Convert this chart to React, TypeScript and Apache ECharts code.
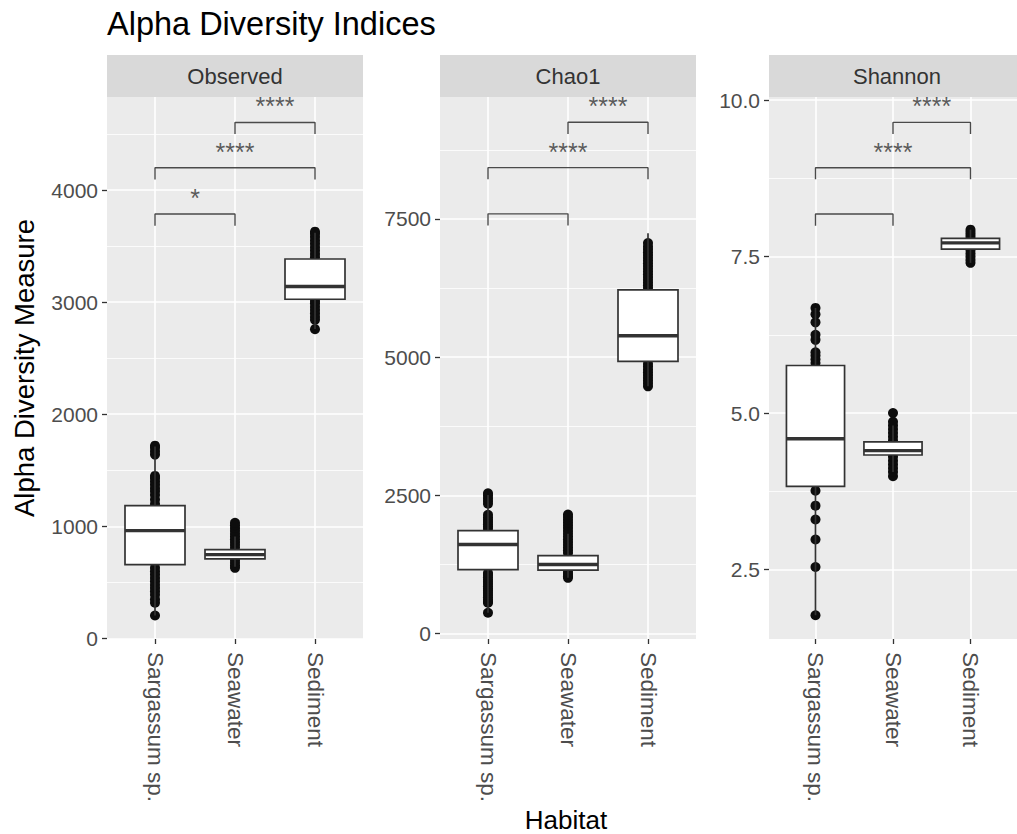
import React, { useEffect, useRef } from "react";
import * as echarts from "echarts";

// Habitats on the x axis of every facet
const categories = ["Sargassum sp.", "Seawater", "Sediment"];
const facetNames = ["Observed", "Chao1", "Shannon"];

// Box statistics per habitat: [lower whisker, Q1, median, Q3, upper whisker]
const observedBoxes = [
  [205, 659, 962, 1185, 1713],
  [640, 710, 748, 793, 910],
  [2760, 3026, 3139, 3385, 3620],
];
const chao1Boxes = [
  [379, 1161, 1613, 1866, 2510],
  [1011, 1149, 1252, 1414, 1810],
  [4473, 4924, 5388, 6219, 7240],
];
const shannonBoxes = [
  [1.77, 3.83, 4.59, 5.76, 6.68],
  [4.06, 4.33, 4.4, 4.54, 4.8],
  [7.4, 7.62, 7.72, 7.79, 7.93],
];

// Individual samples per habitat (those outside the boxes)
const observedPoints = [
  [205, 318, 350, 390, 420, 450, 480, 510, 540, 570, 600, 630, 1200, 1240, 1280, 1312, 1340, 1370, 1400, 1430, 1450, 1640, 1670, 1700, 1720],
  [630, 650, 675, 700, 810, 835, 860, 885, 910, 935, 960, 985, 1010, 1031],
  [2759, 2842, 2870, 2900, 2930, 2960, 2990, 3010, 3400, 3430, 3460, 3490, 3520, 3550, 3580, 3610, 3629],
];
const chao1Points = [
  [379, 560, 580, 620, 660, 700, 740, 780, 820, 860, 900, 940, 980, 1020, 1060, 1100, 1900, 1940, 1980, 2020, 2060, 2100, 2150, 2350, 2400, 2450, 2500, 2540],
  [1011, 1040, 1080, 1120, 1460, 1510, 1560, 1610, 1660, 1710, 1760, 1810, 1860, 1910, 1960, 2010, 2060, 2110, 2155],
  [4473, 4530, 4580, 4630, 4680, 4730, 4780, 4830, 4880, 6250, 6300, 6350, 6400, 6450, 6500, 6550, 6600, 6650, 6700, 6750, 6800, 6850, 6900, 6950, 7000, 7063],
];
const shannonPoints = [
  [1.77, 2.54, 2.98, 3.3, 3.52, 3.76, 5.8, 5.86, 5.92, 5.97, 6.17, 6.25, 6.45, 6.58, 6.68],
  [3.99, 4.06, 4.12, 4.18, 4.24, 4.3, 4.56, 4.62, 4.68, 4.74, 4.8, 4.86, 5.0],
  [7.4, 7.45, 7.5, 7.55, 7.6, 7.81, 7.85, 7.89, 7.93],
];

// Pairwise comparison brackets: [from, to, bracket height, tick foot, label]
const observedBrackets = [
  [0, 1, 3786, 3682, "*"],
  [0, 2, 4199, 4095, "****"],
  [1, 2, 4603, 4499, "****"],
];
const chao1Brackets = [
  [0, 1, 7592, 7381, ""],
  [0, 2, 8428, 8219, "****"],
  [1, 2, 9249, 9037, "****"],
];
const shannonBrackets = [
  [0, 1, 8.18, 7.994, ""],
  [0, 2, 8.92, 8.735, "****"],
  [1, 2, 9.644, 9.457, "****"],
];

// Y scales: limits, labelled ticks and minor grid lines
const observedLimits = [-5, 4830];
const chao1Limits = [-95, 9705];
const shannonLimits = [1.39, 10.05];
const observedTicks = [0, 1000, 2000, 3000, 4000];
const chao1Ticks = [0, 2500, 5000, 7500];
const shannonTicks = [2.5, 5.0, 7.5, 10.0];
const observedMinor = [500, 1500, 2500, 3500, 4500];
const chao1Minor = [1250, 3750, 6250, 8750];
const shannonMinor = [3.75, 6.25, 8.75];

const FONT = "'Liberation Sans', Arial, Helvetica, sans-serif";

const facets = [
  { boxes: observedBoxes, points: observedPoints, brackets: observedBrackets, limits: observedLimits, ticks: observedTicks, minor: observedMinor, decimals: 0 },
  { boxes: chao1Boxes, points: chao1Points, brackets: chao1Brackets, limits: chao1Limits, ticks: chao1Ticks, minor: chao1Minor, decimals: 0 },
  { boxes: shannonBoxes, points: shannonPoints, brackets: shannonBrackets, limits: shannonLimits, ticks: shannonTicks, minor: shannonMinor, decimals: 1 },
];

const PANEL_LEFT = [107, 440, 769];
const PANEL_WIDTH = 256;
const PANEL_TOP = 97;
const PANEL_HEIGHT = 542;
const STRIP_TOP = 55;

function buildOption() {
  const grid: any[] = [];
  const xAxis: any[] = [];
  const yAxis: any[] = [];
  const series: any[] = [];
  const graphic: any[] = [];

  facets.forEach((f, i) => {
    grid.push({
      left: PANEL_LEFT[i],
      top: PANEL_TOP,
      width: PANEL_WIDTH,
      height: PANEL_HEIGHT,
      show: true,
      backgroundColor: "#ebebeb",
      borderWidth: 0,
    });

    xAxis.push({
      type: "value",
      gridIndex: i,
      min: -0.6,
      max: 2.6,
      axisLine: { show: false, onZero: false },
      axisTick: {
        show: true,
        customValues: [0, 1, 2],
        length: 5,
        lineStyle: { color: "#333", width: 1.3 },
      },
      axisLabel: {
        customValues: [0, 1, 2],
        rotate: -90,
        margin: 13,
        fontSize: 22.5,
        color: "#4d4d4d",
        fontFamily: FONT,
        formatter: (v: number) => categories[Math.round(v)] ?? "",
      },
      splitLine: { show: true, lineStyle: { color: "#ffffff", width: 1.6 } },
    });

    // labelled y axis with major grid lines
    yAxis.push({
      type: "value",
      gridIndex: i,
      min: f.limits[0],
      max: f.limits[1],
      axisLine: { show: false, onZero: false },
      axisTick: {
        show: true,
        customValues: f.ticks,
        length: 5,
        lineStyle: { color: "#333", width: 1.3 },
      },
      axisLabel: {
        customValues: f.ticks,
        margin: 9,
        fontSize: 21,
        color: "#4d4d4d",
        fontFamily: FONT,
        formatter: (v: number) => v.toFixed(f.decimals),
      },
      splitLine: { show: true, lineStyle: { color: "#ffffff", width: 1.6 } },
    });
    // companion axis that only carries the minor grid lines
    yAxis.push({
      type: "value",
      gridIndex: i,
      min: f.limits[0],
      max: f.limits[1],
      axisLine: { show: false, onZero: false },
      axisTick: { show: false, customValues: f.minor },
      axisLabel: { show: false, customValues: f.minor },
      splitLine: { show: true, lineStyle: { color: "#ffffff", width: 0.8 } },
    });

    const yIdx = i * 2;

    // sample points, drawn under the boxes
    const pts: number[][] = [];
    f.points.forEach((vals, c) => vals.forEach((v) => pts.push([c, v])));
    series.push({
      type: "scatter",
      xAxisIndex: i,
      yAxisIndex: yIdx,
      data: pts,
      symbol: "circle",
      symbolSize: 10,
      itemStyle: { color: "#0d0d0d", opacity: 1 },
      z: 2,
      silent: true,
    });

    // boxes with whiskers
    series.push({
      type: "custom",
      xAxisIndex: i,
      yAxisIndex: yIdx,
      data: f.boxes.map((b, c) => [c, ...b]),
      encode: { x: 0, y: [1, 2, 3, 4, 5] },
      z: 3,
      silent: true,
      renderItem: (params: any, api: any) => {
        const x = api.value(0);
        const lo = api.coord([x, api.value(1)]);
        const q1 = api.coord([x, api.value(2)]);
        const med = api.coord([x, api.value(3)]);
        const q3 = api.coord([x, api.value(4)]);
        const hi = api.coord([x, api.value(5)]);
        const half = api.size([0.75, 0])[0] / 2;
        const stroke = { stroke: "#333333", lineWidth: 1.7 };
        return {
          type: "group",
          children: [
            { type: "line", shape: { x1: lo[0], y1: lo[1], x2: q1[0], y2: q1[1] }, style: stroke },
            { type: "line", shape: { x1: q3[0], y1: q3[1], x2: hi[0], y2: hi[1] }, style: stroke },
            {
              type: "rect",
              shape: { x: q3[0] - half, y: q3[1], width: half * 2, height: q1[1] - q3[1] },
              style: { fill: "#ffffff", stroke: "#333333", lineWidth: 1.7 },
            },
            {
              type: "line",
              shape: { x1: med[0] - half, y1: med[1], x2: med[0] + half, y2: med[1] },
              style: { stroke: "#333333", lineWidth: 3.4 },
            },
          ],
        };
      },
    });

    // significance brackets
    f.brackets.forEach((b) => {
      const [from, to, top, foot] = b as number[];
      series.push({
        type: "line",
        xAxisIndex: i,
        yAxisIndex: yIdx,
        data: [
          [from, foot],
          [from, top],
          [to, top],
          [to, foot],
        ],
        symbol: "none",
        lineStyle: { color: "#4a4a4a", width: 1.4 },
        z: 4,
        silent: true,
      });
    });
    // significance stars above each bracket
    series.push({
      type: "scatter",
      xAxisIndex: i,
      yAxisIndex: yIdx,
      data: f.brackets.map((b) => ({
        value: [((b[0] as number) + (b[1] as number)) / 2, b[2]],
        label: { formatter: b[4] as string },
      })),
      symbol: "circle",
      symbolSize: 1,
      itemStyle: { color: "rgba(0,0,0,0)" },
      label: {
        show: true,
        position: "top",
        distance: 3,
        fontSize: 25,
        color: "#333",
        fontFamily: FONT,
      },
      z: 5,
      silent: true,
    });

    // facet strip
    graphic.push({
      type: "rect",
      shape: { x: PANEL_LEFT[i], y: STRIP_TOP, width: PANEL_WIDTH, height: PANEL_TOP - STRIP_TOP },
      style: { fill: "#d9d9d9" },
      silent: true,
    });
    graphic.push({
      type: "text",
      x: PANEL_LEFT[i] + PANEL_WIDTH / 2,
      y: (STRIP_TOP + PANEL_TOP) / 2,
      style: {
        text: facetNames[i],
        fontSize: 22,
        fill: "#333333",
        fontFamily: FONT,
        align: "center",
        verticalAlign: "middle",
      },
      silent: true,
    });
  });

  graphic.push({
    type: "text",
    x: 24,
    y: PANEL_TOP + PANEL_HEIGHT / 2,
    rotation: Math.PI / 2,
    style: {
      text: "Alpha Diversity Measure",
      fontSize: 27.5,
      fill: "#000",
      fontFamily: FONT,
      align: "center",
      verticalAlign: "middle",
    },
    silent: true,
  });
  graphic.push({
    type: "text",
    x: 566,
    y: 820,
    style: {
      text: "Habitat",
      fontSize: 26,
      fill: "#000",
      fontFamily: FONT,
      align: "center",
      verticalAlign: "middle",
    },
    silent: true,
  });

  return {
    animation: false,
    backgroundColor: "#ffffff",
    title: {
      text: "Alpha Diversity Indices",
      left: 107,
      top: 7,
      padding: 0,
      textStyle: { fontSize: 32.5, fontWeight: "normal", color: "#000", fontFamily: FONT },
    },
    grid,
    xAxis,
    yAxis,
    series,
    graphic,
  };
}

export default function App() {
  const ref = useRef<HTMLDivElement>(null);
  useEffect(() => {
    if (!ref.current) return;
    const chart = echarts.init(ref.current, undefined, { renderer: "svg" });
    chart.setOption(buildOption() as any);
    return () => chart.dispose();
  }, []);
  return (
    <div
      ref={ref}
      style={{ position: "absolute", left: 0, top: 0, width: 1017, height: 834, background: "#fff" }}
    />
  );
}
